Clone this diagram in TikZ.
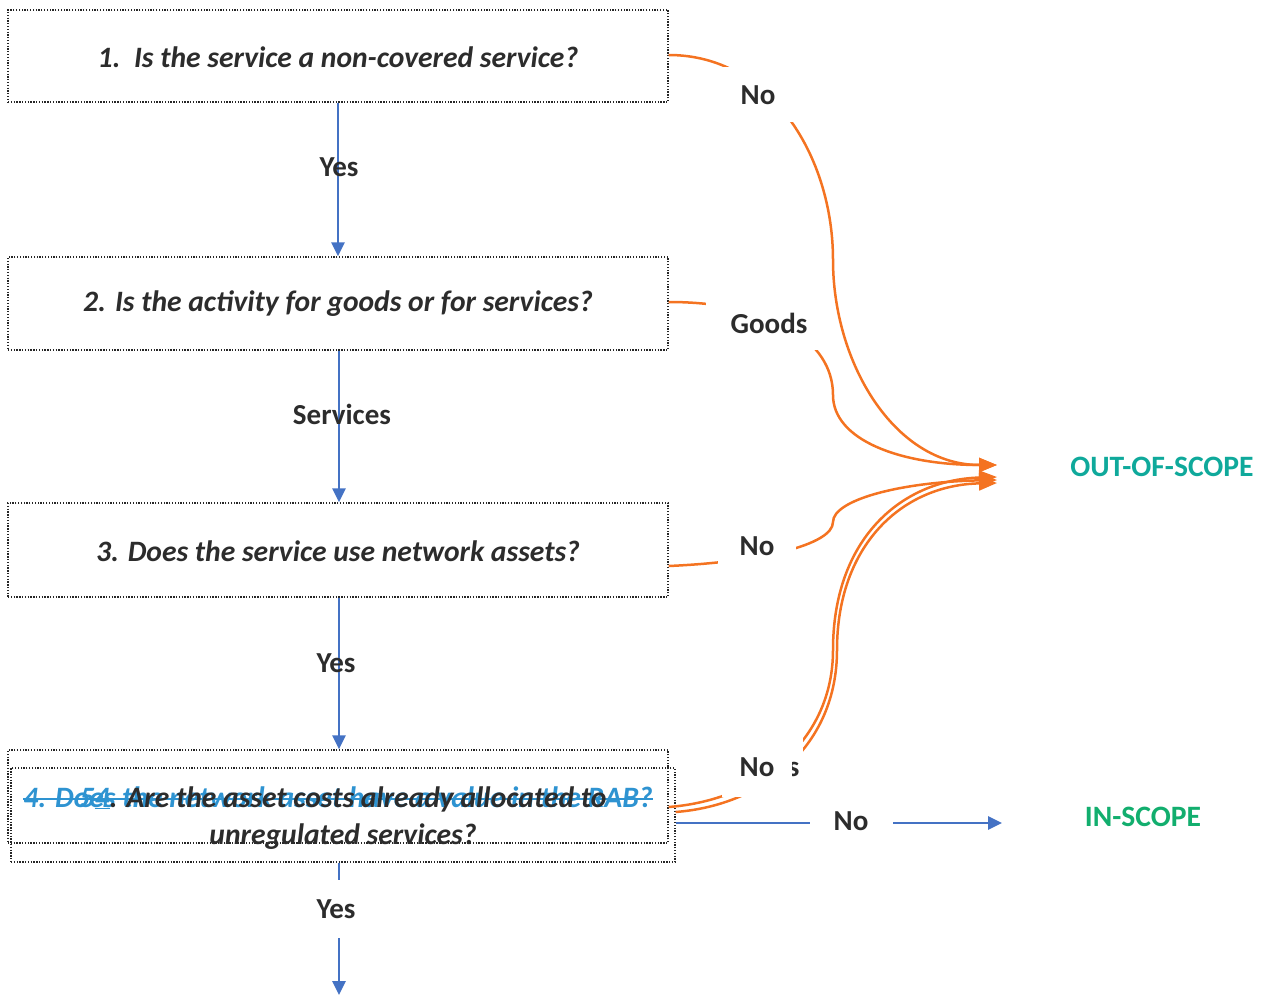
\documentclass[tikz,border=0pt]{standalone}
\usepackage{fontspec}
\setmainfont{Carlito}
\usetikzlibrary{arrows.meta,calc}
\definecolor{og}{HTML}{F47321}
\definecolor{bl}{HTML}{4472C4}
\definecolor{tx}{HTML}{2C2C2C}
\definecolor{strk}{HTML}{2E93D1}
\definecolor{outc}{HTML}{0FA99B}
\definecolor{inc}{HTML}{12AE6E}
\begin{document}
\begin{tikzpicture}[x=1pt,y=-1pt,
  qbox/.style={draw=black!85, line width=1.3pt, dash pattern=on 1.3pt off 1.5pt, inner sep=0pt},
  qtxt/.style={font=\fontsize{29.6}{36}\selectfont\bfseries\itshape, text=tx, inner sep=0pt},
  lbl/.style={font=\fontsize{29}{35}\selectfont\bfseries, text=tx, inner sep=0pt},
  gap/.style={lbl, fill=white},
  barrow/.style={draw=bl, line width=2.6pt, -{Triangle[length=14pt,width=13pt]}},
  oarrow/.style={draw=og, line width=2.5pt, -{Triangle[length=18pt,width=14pt]}},
  res/.style={font=\fontsize{29.6}{36}\selectfont\bfseries, inner sep=0pt}]
\useasboundingbox (0,0) rectangle (1268,995);

% question boxes
\node[qbox, minimum width=660pt, minimum height=92pt] (b1) at (338,56) {};
\node[qbox, minimum width=660pt, minimum height=93pt] (b2) at (338,303.5) {};
\node[qbox, minimum width=660pt, minimum height=94pt] (b3) at (338,550) {};
\node[qbox, minimum width=660pt, minimum height=93pt] (b4a) at (338,796.5) {};
\node[qbox, minimum width=664pt, minimum height=94pt] (b4b) at (343,815) {};

\node[qtxt] (t1) at (338,57) {1.\ \ Is the service a non-covered service?};
\node[qtxt] (t2) at (338,304) {2. Is the activity for goods or for services?};
\node[qtxt] (t3) at (338,551) {3. Does the service use network assets?};
\node[qtxt, text=strk, anchor=base] (t4old) at (338,807) {4. Does the network asset have a value in the RAB?};
\draw[strk, line width=1.8pt] ([yshift=8pt]t4old.base west) -- ([yshift=8pt]t4old.base east);
\node[qtxt, anchor=base, align=center, font=\fontsize{29.6}{37}\selectfont\bfseries\itshape] (t4) at (343,844)
  {{\color{strk}5\underline{4}}. Are the asset costs already allocated to\\unregulated services?};

% outcomes
\node[res, text=outc] (out) at (1162,467) {OUT-OF-SCOPE};
\node[res, text=inc] (in) at (1143,817) {IN-SCOPE};

% blue flow
\coordinate (bend) at (339,995);
\coordinate (inend) at (1002,823);
\draw[barrow] (b1.south) -- (b2.north);
\draw[barrow] (b2.south -| bend) -- (b3.north -| bend);
\draw[barrow] (b3.south -| bend) -- (b4a.north -| bend);
\draw[barrow] (b4b.south -| bend) -- (bend);
\draw[barrow] (b4b.east |- inend) -- (inend);
\node[lbl] (y1) at (339,167) {Yes};
\node[lbl] (y2) at (342,414) {Services};
\node[lbl] (y3) at (336,663) {Yes};
\node[gap, minimum height=58pt, inner xsep=3pt] (y4) at (336,909) {Yes};
\node[gap, minimum width=83pt, minimum height=34pt] (n5) at (851,821) {No};

% orange connectors
\coordinate (o1) at (997,465);
\coordinate (o2) at (997,480);
\coordinate (o3) at (997,477);
\coordinate (o4) at (997,483);

\draw[oarrow] (b2.east |- 0,302) .. controls (770,302) and (833,340) .. (833,395)
  .. controls (833,440) and (900,465) .. (o1);
\node[gap, minimum width=126pt, minimum height=54pt] (g2) at (769,323) {Goods};

\draw[oarrow] (b1.east |- 0,55) to[out=0,in=90] (833,260) to[out=-90,in=180] (o1);
\node[gap, minimum width=80pt, minimum height=55pt] (n1) at (758,95) {No};

\draw[oarrow] (b3.east |- 0,566) .. controls (760,562) and (833,545) .. (833,522)
  .. controls (833,500) and (900,482) .. (o2);
\node[gap, minimum width=78pt, minimum height=50pt] (n3) at (757,546) {No};

\draw[oarrow] (b4a.east |- 0,807) .. controls (760,800) and (833,740) .. (833,650)
  .. controls (833,540) and (900,480) .. (o3);
\draw[oarrow] (b4b.east |- 0,812) .. controls (765,805) and (837,745) .. (837,650)
  .. controls (837,545) and (902,485) .. (o4);
\node[gap, minimum height=59pt, inner xsep=4pt] (y5) at (780,767) {Yes};
\node[gap, minimum width=70pt, minimum height=59pt] (n4) at (757,767) {No};
\end{tikzpicture}
\end{document}
